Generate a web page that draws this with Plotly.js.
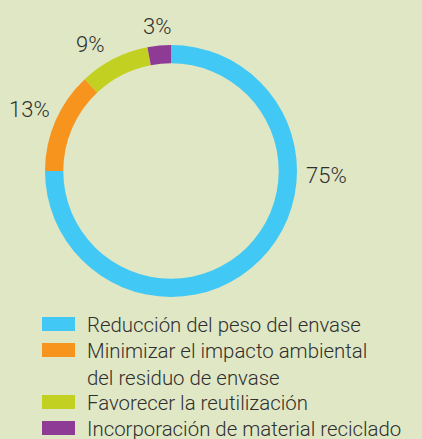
<!DOCTYPE html>
<html>
<head>
<meta charset="utf-8">
<script src="https://cdn.plot.ly/plotly-3.0.1.min.js"></script>
<style>html,body{margin:0;padding:0;background:#e0e7c4;}#chart{width:422px;height:439px;}</style>
</head>
<body>
<div id="chart"></div>
<script>
var categories = ["Reducción del peso del envase", "Minimizar el impacto ambiental<br>del residuo de envase", "Favorecer la reutilización", "Incorporación de material reciclado"];
var values = [75, 13, 9, 3];
var colors = ["#42c8f4", "#f7941d", "#c2d021", "#8e3b96"];

var W = 422, H = 439;
var cx = 171, cy = 171, R = 126;
var font = "Roboto, 'DejaVu Sans', sans-serif";
var txtColor = "#2f2f2f";
// label placement tweaks (degrees offset from slice middle, distance from centre in px)
var labelAngleOverride = [91.5, null, null, null];
var labelAngleShift = [0, 0, -5.5, 0];
var labelDist = [156, 154, 150, 145];

var trace = {
  type: "pie",
  values: values,
  labels: categories,
  marker: {colors: colors, line: {width: 0}},
  hole: 0.855,
  sort: false,
  direction: "clockwise",
  rotation: 0,
  textinfo: "none",
  hoverinfo: "none",
  showlegend: false,
  domain: {x: [(cx - R) / W, (cx + R) / W], y: [(H - cy - R) / H, (H - cy + R) / H]}
};

var annotations = [];
var shapes = [];
var total = values.reduce(function(a, b) { return a + b; }, 0);
var cum = 0;
values.forEach(function(v, i) {
  var mid = (cum + v / 2) / total * 360;
  cum += v;
  var ang = labelAngleOverride[i] !== null ? labelAngleOverride[i] : mid + labelAngleShift[i];
  var r = labelDist[i];
  var rad = ang * Math.PI / 180;
  var x = cx + r * Math.sin(rad);
  var y = cy - r * Math.cos(rad);
  annotations.push({
    xref: "paper", yref: "paper", x: x / W, y: 1 - y / H,
    xanchor: "center", yanchor: "middle", showarrow: false,
    text: v + "%", font: {family: font, size: 22, weight: 300, color: txtColor}
  });
});

// legend
var rowY = [324, 350, 402, 428];
categories.forEach(function(c, i) {
  var y = rowY[i];
  shapes.push({
    type: "rect", xref: "paper", yref: "paper",
    x0: 42 / W, x1: 75 / W, y0: 1 - (y + 7) / H, y1: 1 - (y - 7) / H,
    fillcolor: colors[i], line: {width: 0}
  });
  annotations.push({
    xref: "paper", yref: "paper", x: 85 / W, y: 1 - (y - 13) / H,
    xanchor: "left", yanchor: "top", align: "left", showarrow: false,
    text: c, font: {family: font, size: 20.4, weight: 300, color: txtColor}
  });
});

var layout = {
  width: W, height: H,
  margin: {l: 0, r: 0, t: 0, b: 0},
  paper_bgcolor: "#e0e7c4",
  plot_bgcolor: "#e0e7c4",
  showlegend: false,
  annotations: annotations,
  shapes: shapes
};

Plotly.newPlot("chart", [trace], layout, {displayModeBar: false, staticPlot: true});
</script>
</body>
</html>
